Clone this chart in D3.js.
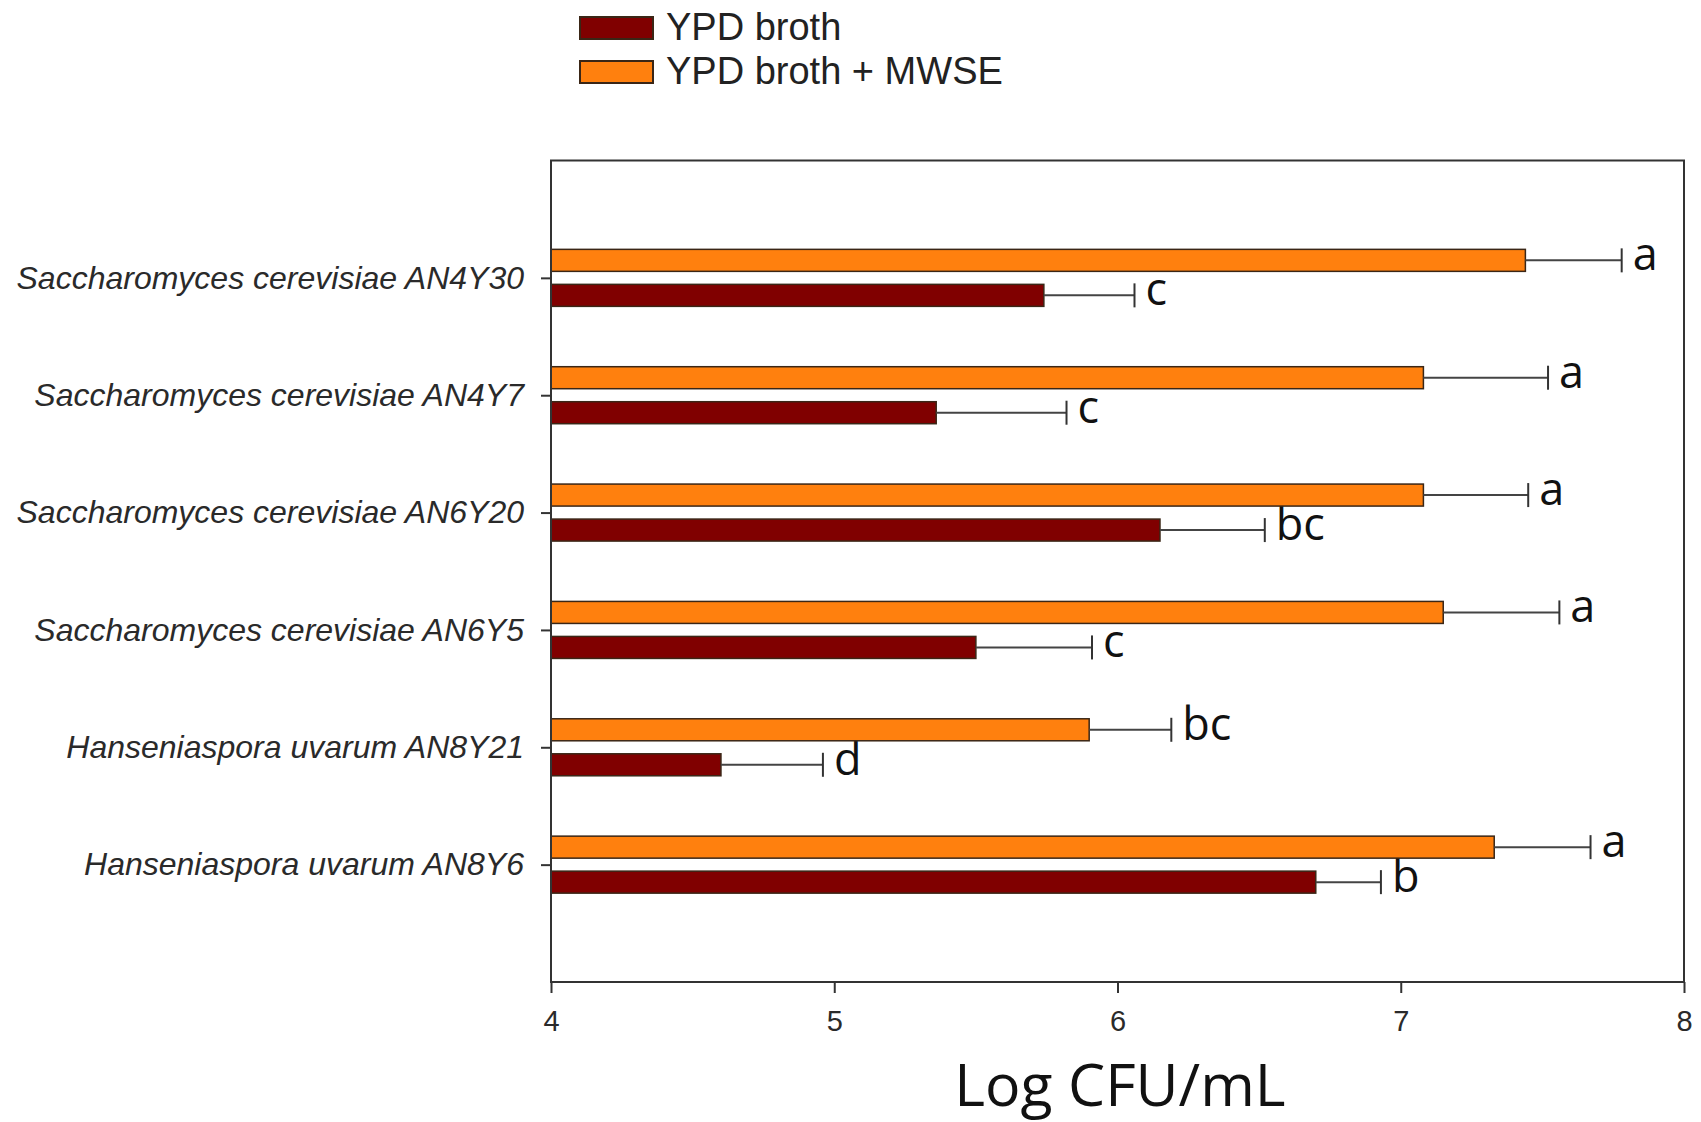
<!DOCTYPE html>
<html>
<head>
<meta charset="utf-8">
<script src="https://cdn.jsdelivr.net/npm/d3@7"></script>
<style>
  html, body { margin: 0; padding: 0; background: #fff; }
  svg { display: block; }
</style>
</head>
<body>
<svg id="chart" width="1701" height="1122"></svg>
<script>
const categories = [
  "Saccharomyces cerevisiae AN4Y30",
  "Saccharomyces cerevisiae AN4Y7",
  "Saccharomyces cerevisiae AN6Y20",
  "Saccharomyces cerevisiae AN6Y5",
  "Hanseniaspora uvarum AN8Y21",
  "Hanseniaspora uvarum AN8Y6"
];
const seriesNames = ["YPD broth", "YPD broth + MWSE"];
const ypdValues = [5.74, 5.36, 6.15, 5.50, 4.60, 6.70];
const ypdErrors = [0.32, 0.46, 0.37, 0.41, 0.36, 0.23];
const ypdLetters = ["c", "c", "bc", "c", "d", "b"];
const mwseValues = [7.44, 7.08, 7.08, 7.15, 5.90, 7.33];
const mwseErrors = [0.34, 0.44, 0.37, 0.41, 0.29, 0.34];
const mwseLetters = ["a", "a", "a", "a", "bc", "a"];
const xTicks = [4, 5, 6, 7, 8];
const xTitle = "Log CFU/mL";

const colors = ["#800000", "#ff800e"];
const outline = "#3a2616";

const svg = d3.select("#chart");
const mLeft = 551, mRight = 1684, mTop = 160.5, mBottom = 982;

const x = d3.scaleLinear().domain([4, 8]).range([mLeft, mRight]);
const y = d3.scalePoint().domain(categories).range([mTop, mBottom]).padding(1);

const barH = 22, off = 17.5;

const series = [
  { vals: ypdValues, errs: ypdErrors, letters: ypdLetters, color: colors[0], dy: off },
  { vals: mwseValues, errs: mwseErrors, letters: mwseLetters, color: colors[1], dy: -off }
];

series.forEach(s => {
  const g = svg.append("g");
  categories.forEach((c, i) => {
    const cy = y(c) + s.dy;
    g.append("rect")
      .attr("x", x(4)).attr("y", cy - barH / 2)
      .attr("width", x(s.vals[i]) - x(4)).attr("height", barH)
      .attr("fill", s.color).attr("stroke", outline).attr("stroke-width", 1.5);
    const xe = x(s.vals[i] + s.errs[i]);
    g.append("line")
      .attr("x1", x(s.vals[i])).attr("x2", xe).attr("y1", cy).attr("y2", cy)
      .attr("stroke", "#444").attr("stroke-width", 2);
    g.append("line")
      .attr("x1", xe).attr("x2", xe).attr("y1", cy - 12).attr("y2", cy + 12)
      .attr("stroke", "#333").attr("stroke-width", 2);
    g.append("text")
      .attr("x", xe + 11).attr("y", cy + barH / 2 - 1)
      .attr("font-family", "Open Sans").attr("font-size", 45)
      .attr("fill", "#111").text(s.letters[i]);
  });
});

// frame
svg.append("rect").attr("x", mLeft).attr("y", mTop)
  .attr("width", mRight - mLeft).attr("height", mBottom - mTop)
  .attr("fill", "none").attr("stroke", "#333").attr("stroke-width", 2);

// y axis
const yAxis = svg.append("g").attr("transform", `translate(${mLeft},0)`)
  .call(d3.axisLeft(y).tickSize(10).tickPadding(17));
yAxis.select(".domain").remove();
yAxis.selectAll("line").attr("stroke", "#333").attr("stroke-width", 2);
yAxis.selectAll("text")
  .attr("font-family", "Liberation Sans, Arial, sans-serif")
  .attr("font-style", "italic").attr("font-size", 32).attr("fill", "#2a2a2a");

// x axis
const xAxis = svg.append("g").attr("transform", `translate(0,${mBottom})`)
  .call(d3.axisBottom(x).tickValues(xTicks).tickSize(11).tickPadding(17).tickFormat(d3.format("d")));
xAxis.select(".domain").remove();
xAxis.selectAll("line").attr("stroke", "#333").attr("stroke-width", 2);
xAxis.selectAll(".tick text")
  .attr("font-family", "Liberation Sans, Arial, sans-serif")
  .attr("font-size", 29).attr("fill", "#2a2a2a");

svg.append("text")
  .attr("x", 1120).attr("y", 1106)
  .attr("text-anchor", "middle")
  .attr("font-family", "Open Sans").attr("font-size", 59)
  .attr("fill", "#111").text(xTitle);

// legend
const legend = svg.append("g");
seriesNames.forEach((n, i) => {
  const ly = 17 + i * 44;
  legend.append("rect").attr("x", 580).attr("y", ly)
    .attr("width", 73).attr("height", 22)
    .attr("fill", colors[i]).attr("stroke", outline).attr("stroke-width", 2);
  legend.append("text").attr("x", 666).attr("y", ly + 23)
    .attr("font-family", "Liberation Sans, Arial, sans-serif")
    .attr("font-size", 38).attr("fill", "#222").text(n);
});
</script>
</body>
</html>
